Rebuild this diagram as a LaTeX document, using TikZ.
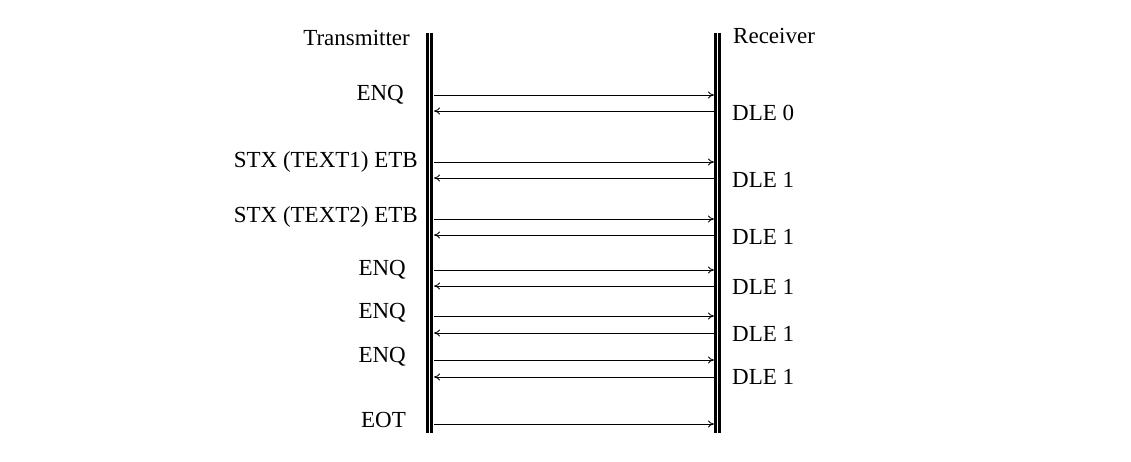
\documentclass[tikz,border=0pt]{standalone}
\usepackage{fontspec}
\setmainfont{Liberation Serif}
\usetikzlibrary{arrows.meta}
\begin{document}
\begin{tikzpicture}[x=1pt,y=-1pt,
  msg/.style={draw,line width=0.8pt,-{To[length=6pt,width=7pt]}},
  lbl/.style={font=\fontsize{23}{25}\selectfont,inner sep=0pt},
  rail/.style={line width=2.2pt}]
\useasboundingbox (0,0) rectangle (1131,462);
\coordinate (t1) at (427.5,33); \coordinate (t2) at (427.5,433);
\coordinate (t3) at (431.5,33); \coordinate (t4) at (431.5,433);
\coordinate (r1) at (715.5,33); \coordinate (r2) at (715.5,433);
\coordinate (r3) at (719.5,33); \coordinate (r4) at (719.5,433);
\draw[rail] (t1) -- (t2); \draw[rail] (t3) -- (t4);
\draw[rail] (r1) -- (r2); \draw[rail] (r3) -- (r4);
\node[lbl,anchor=east] (tx) at (410,38) {Transmitter};
\node[lbl,anchor=west] (rx) at (733,36) {Receiver};
\foreach \n/\y in {a/95,b/162,c/219,d/270,e/316,f/360,g/424}{
  \coordinate (L\n) at (434,\y); \coordinate (R\n) at (714,\y);
  \draw[msg] (L\n) -- (R\n);}
\foreach \n/\y in {a/111,b/178,c/235,d/286,e/333,f/377}{
  \coordinate (M\n) at (714,\y); \coordinate (N\n) at (434,\y);
  \draw[msg] (M\n) -- (N\n);}
\node[lbl,anchor=east] (s1) at (404,95) {ENQ};
\node[lbl,anchor=east] (s2) at (418,162) {STX (TEXT1) ETB};
\node[lbl,anchor=east] (s3) at (418,217) {STX (TEXT2) ETB};
\node[lbl,anchor=east] (s4) at (406,270) {ENQ};
\node[lbl,anchor=east] (s5) at (406,313) {ENQ};
\node[lbl,anchor=east] (s6) at (406,357) {ENQ};
\node[lbl,anchor=east] (s7) at (406,420) {EOT};
\node[lbl,anchor=west] (d1) at (732,113) {DLE 0};
\node[lbl,anchor=west] (d2) at (732,180) {DLE 1};
\node[lbl,anchor=west] (d3) at (732,237) {DLE 1};
\node[lbl,anchor=west] (d4) at (732,287) {DLE 1};
\node[lbl,anchor=west] (d5) at (732,334) {DLE 1};
\node[lbl,anchor=west] (d6) at (732,377) {DLE 1};
\end{tikzpicture}
\end{document}
